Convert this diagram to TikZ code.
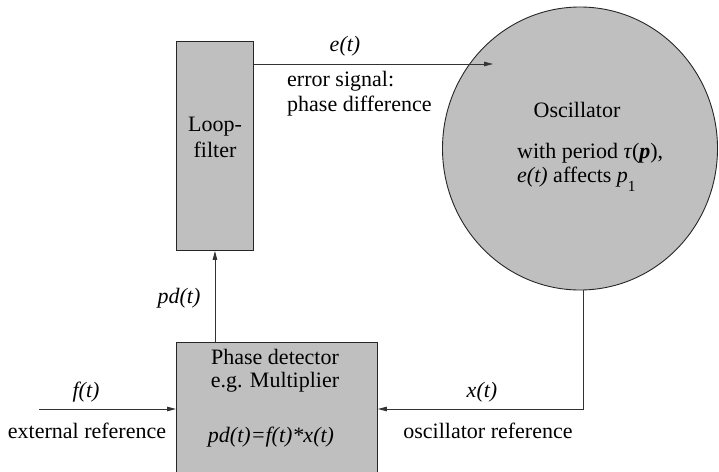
\documentclass[tikz,border=0pt]{standalone}
\usepackage{fontspec}
\setmainfont{Liberation Serif}
\newfontfamily\tnr{Liberation Serif}
\usetikzlibrary{arrows.meta,shapes.geometric,calc}
\tikzset{
  block/.style={draw=black!85, fill=black!25, line width=0.9pt, inner sep=0pt},
  wire/.style={draw=black!80, line width=0.9pt},
  arrow/.style={wire, -{Triangle[length=9pt,width=4.5pt]}},
  lbl/.style={inner sep=0pt, font=\tnr\fontsize{22}{26}\selectfont},
}
\begin{document}
\begin{tikzpicture}[x=1pt,y=-1pt]
  \useasboundingbox (0,0) rectangle (719,471);
  \clip (0,0) rectangle (719,471);

  % blocks
  \node[block, minimum width=77pt, minimum height=209pt, anchor=north west,
        align=center, font=\tnr\fontsize{22}{26}\selectfont] (lf) at (176,41) {Loop-\\filter\\[-8pt]};
  \node[block, minimum width=201pt, minimum height=140pt, anchor=north west] (pd) at (176,342) {};
  \node[block, ellipse, minimum width=275pt, minimum height=283pt] (osc) at (580,148.5) {};

  % text inside the phase detector
  \node[lbl] (pdt1) at (275,357) {Phase detector};
  \node[lbl] (pdt2) at (275,382) {e.g. Multiplier};
  \node[lbl] (pdt3) at (271,437) {\itshape pd(t)=f(t)*x(t)};

  % text inside the oscillator
  \node[lbl] (osct) at (577,110) {Oscillator};
  \node[lbl, anchor=west] (osc1) at (517,153) {with period \textit{τ}(\textbf{\textit{p}}),};
  \node[lbl, anchor=west] (osc2) at (517,179) {\textit{e(t)} affects \textit{p}\textsubscript{\raisebox{-0.9ex}{1}}};

  % signal endpoints
  \coordinate (eend) at (493,64);
  \coordinate (fin) at (39,409);

  % connectors
  \draw[arrow] (lf.east |- eend) -- (eend);
  \draw[arrow] (lf.south |- pd.north) -- (lf.south);
  \draw[arrow] (fin) -- (fin -| pd.west);
  \draw[arrow] ([xshift=3pt]osc.south) -- ([xshift=3pt]osc.south |- fin) -- (pd.east |- fin);

  % connector labels
  \node[lbl] (el) at (345,46) {\itshape e(t)};
  \node[lbl, anchor=west] (es1) at (287,81) {error signal:};
  \node[lbl, anchor=west] (es2) at (287,106) {phase difference};
  \node[lbl] (pdl) at (179,298) {\itshape pd(t)};
  \node[lbl] (fl) at (86,392) {\itshape f(t)};
  \node[lbl] (fr) at (87,431) {external reference};
  \node[lbl] (xl) at (482,392) {\itshape x(t)};
  \node[lbl] (xr) at (488,431) {oscillator reference};
\end{tikzpicture}
\end{document}
